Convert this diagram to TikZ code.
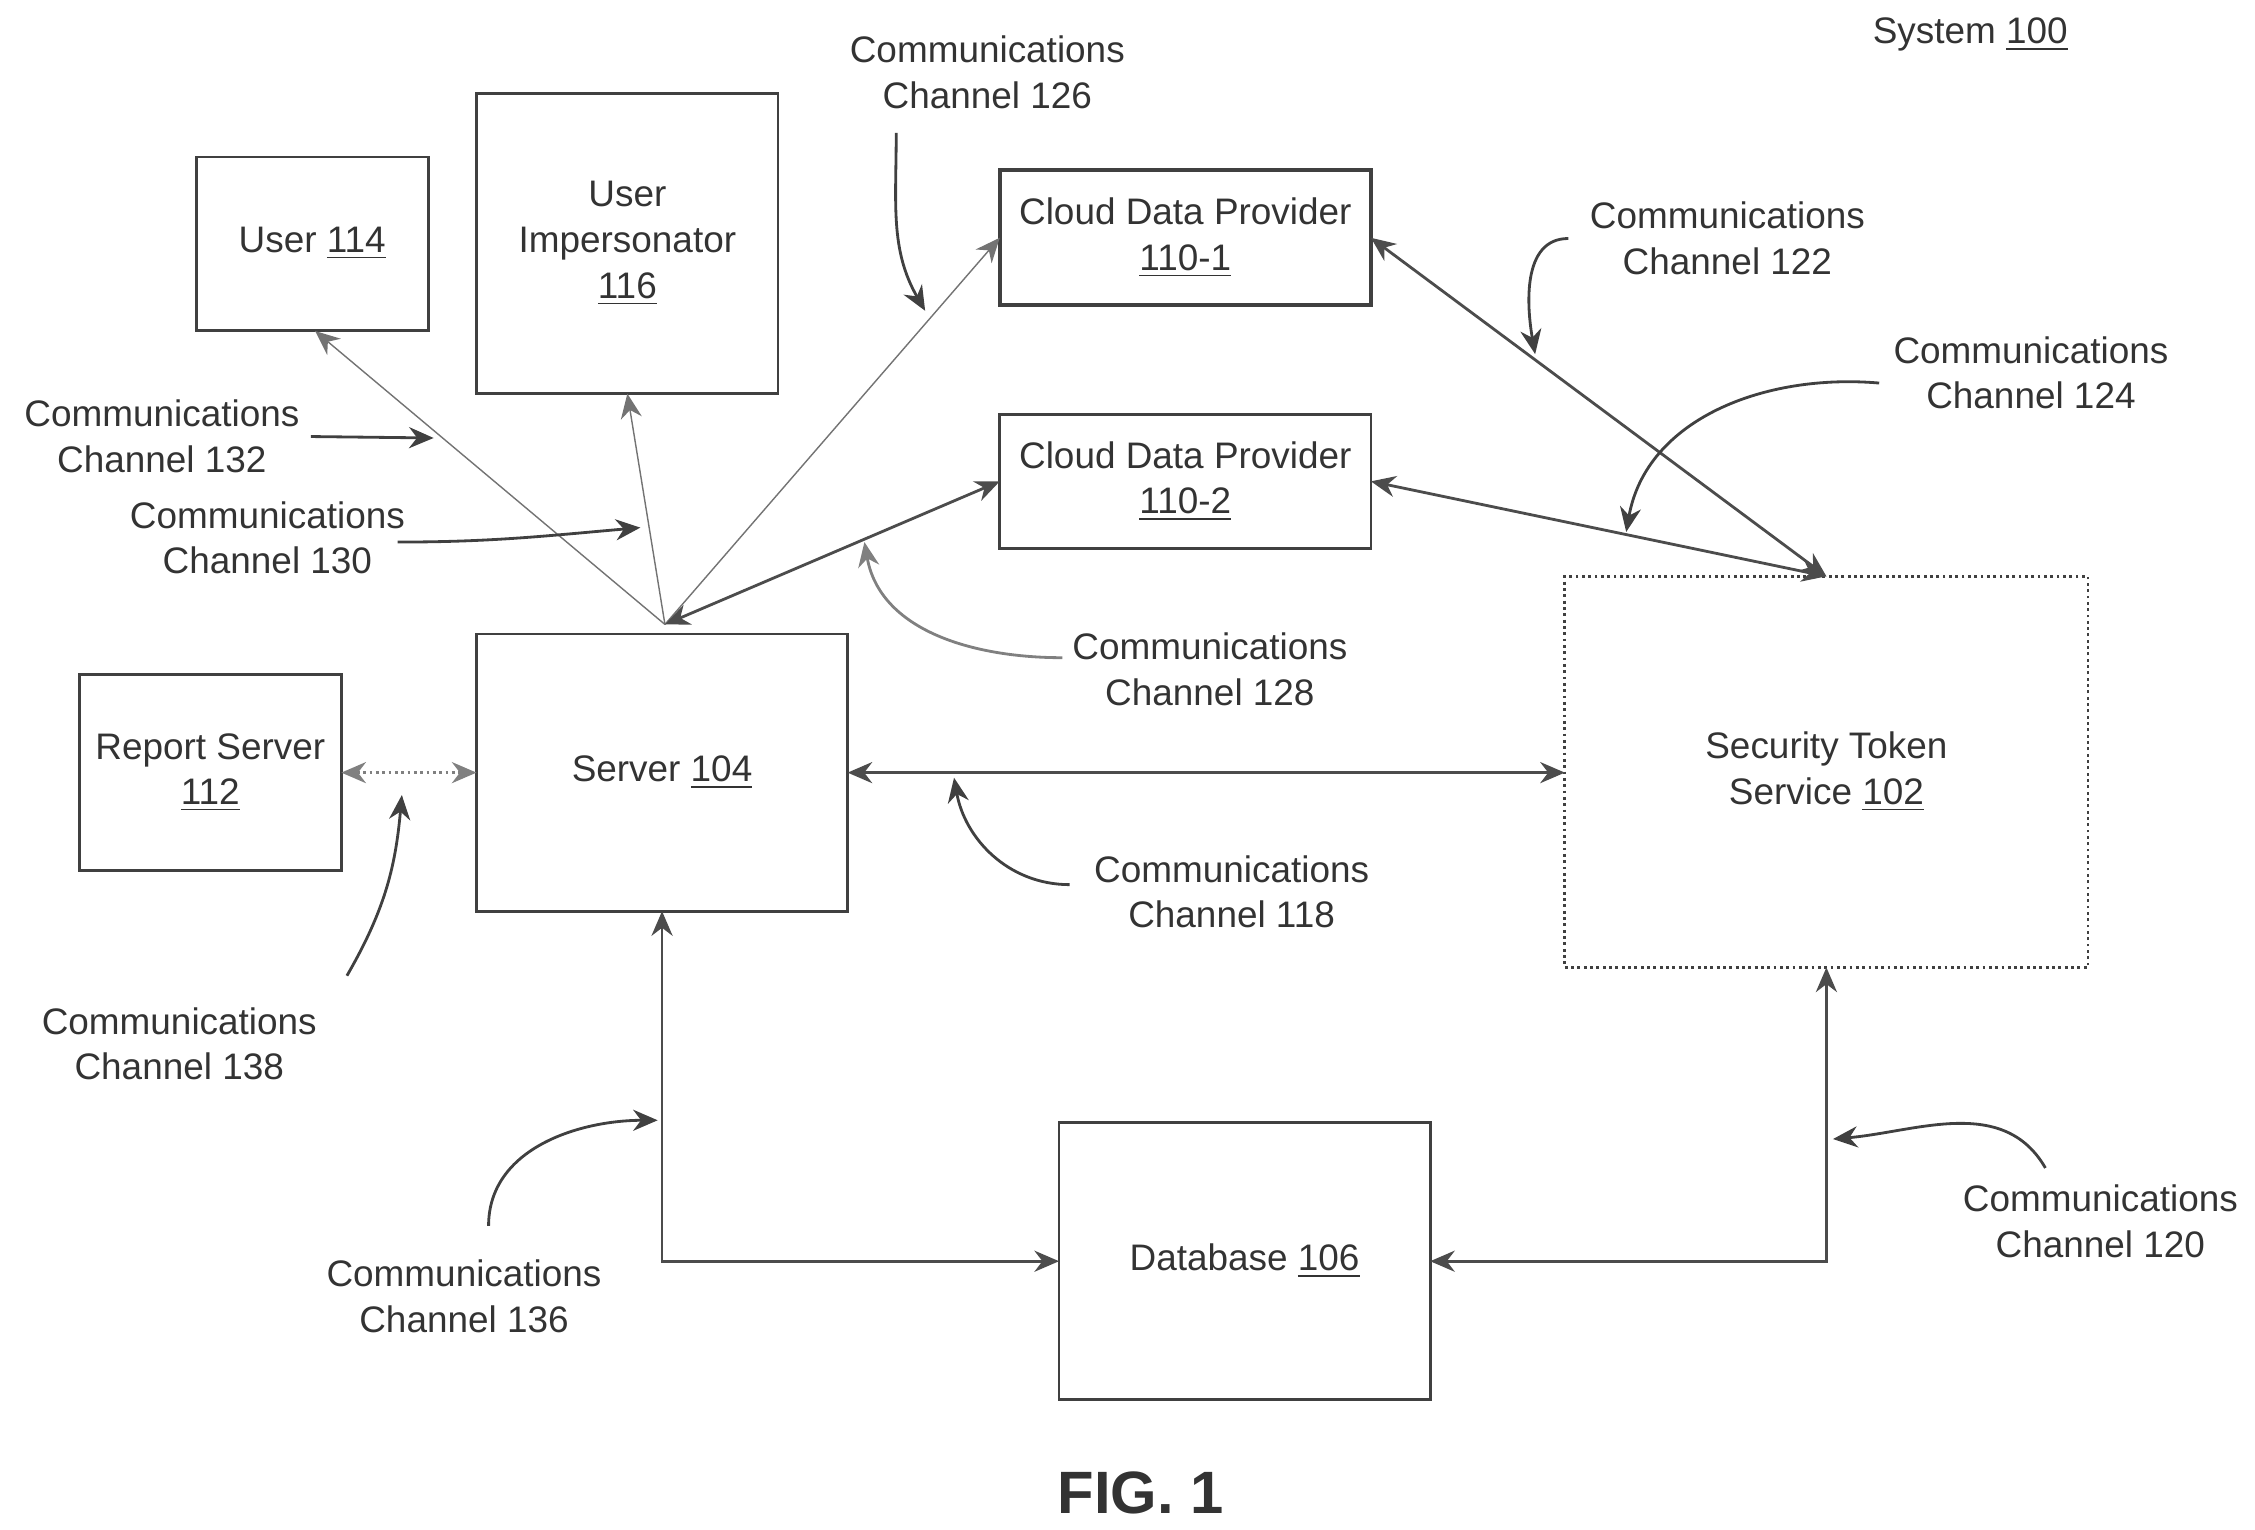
\documentclass[tikz,border=0pt]{standalone}
\usepackage{fontspec}
\setmainfont{Liberation Sans}
\usetikzlibrary{arrows.meta,calc}
\begin{document}
\begin{tikzpicture}[x=0.1445mm,y=-0.1445mm,
    every node/.style={font=\fontsize{10.5}{13}\selectfont, text=black!80},
    box/.style={draw=black!75, inner sep=2pt, outer sep=0pt, align=center, thick},
    link/.style={draw=black!70, thick, {Stealth[length=7pt,width=6pt]}-{Stealth[length=7pt,width=6pt]}},
    oneway/.style={draw=black!55, {Stealth[length=7pt,width=6pt]}-},
    callout/.style={draw=black!75, thick, -{Stealth[length=7pt,width=6pt]}},
    chan/.style={align=center}]
    \useasboundingbox (0,0) rectangle (1560,1058);

    % Define boxes
    \node[box, minimum width=2.32cm, minimum height=1.73cm] (user) at (216,168.5) {User \underline{114}};
    \node[box, minimum width=3.01cm, minimum height=3.0cm] (imp) at (434,168.5) {User\\Impersonator\\\underline{116}};
    \node[box, very thick, minimum width=3.71cm, minimum height=1.35cm] (cloud1) at (820,164.5) {Cloud Data Provider\\\underline{110-1}};
    \node[box, minimum width=3.71cm, minimum height=1.34cm] (cloud2) at (820,333) {Cloud Data Provider\\\underline{110-2}};
    \node[box, minimum width=2.62cm, minimum height=1.96cm] (report) at (145.5,534.5) {Report Server\\\underline{112}};
    \node[box, minimum width=3.71cm, minimum height=2.77cm] (server) at (458,534.5) {Server \underline{104}};
    \node[box, densely dotted, minimum width=5.23cm, minimum height=3.91cm] (sts) at (1263.5,534) {Security Token\\Service \underline{102}};
    \node[box, minimum width=3.71cm, minimum height=2.77cm] (db) at (861,872.5) {Database \underline{106}};

    % Connectors
    \coordinate (hub) at (460,432);
    \draw[oneway] (218,229) -- (hub);
    \draw[oneway] (imp.south) -- (hub);
    \draw[oneway] (cloud1.west) -- (hub);
    \draw[link] (hub) -- (cloud2.west);
    \draw[link] (cloud1.east) -- (sts.north);
    \draw[link] (cloud2.east) -- (sts.north);
    \draw[link, densely dotted, draw=black!50] (report.east) -- (server.west |- report.east);
    \draw[link] (server.east) -- (sts.west |- server.east);
    \draw[link] (server.south) |- (db.west);
    \draw[link] (db.east) -| (sts.south);

    % Channel labels
    \node (sys) at (1363,24) {System \underline{100}};
    \node[chan] (c126) at (683,50) {Communications\\Channel 126};
    \node[chan] (c122) at (1195,165) {Communications\\Channel 122};
    \node[chan] (c124) at (1405,258) {Communications\\Channel 124};
    \node[chan] (c132) at (112,302) {Communications\\Channel 132};
    \node[chan] (c130) at (185,372) {Communications\\Channel 130};
    \node[chan] (c128) at (837,463) {Communications\\Channel 128};
    \node[chan] (c118) at (852,617) {Communications\\Channel 118};
    \node[chan] (c138) at (124,722) {Communications\\Channel 138};
    \node[chan] (c136) at (321,897) {Communications\\Channel 136};
    \node[chan] (c120) at (1453,845) {Communications\\Channel 120};
    \node[font=\bfseries\fontsize{17}{20}\selectfont] (fig) at (789,1033) {FIG. 1};

    % Callout arrows
    \draw[callout] (620,92) to[out=-90,in=120] (640,215);
    \draw[callout] (1085,165) to[out=180,in=100] (1062,245);
    \draw[callout] (1300,265) to[out=175,in=80] (1125,368);
    \draw[callout] (215,302) -- (300,303);
    \draw[callout] (275,375) to[out=0,in=185] (443,365);
    \draw[callout, draw=black!50] (735,455) to[out=180,in=-80] (598,375);
    \draw[callout] (740,612) to[out=180,in=-80] (660,538);
    \draw[callout] (240,675) to[out=60,in=-95] (278,550);
    \draw[callout] (338,848) to[out=90,in=180] (455,775);
    \draw[callout] (1415,808) to[out=120,in=5] (1268,788);
\end{tikzpicture}
\end{document}
